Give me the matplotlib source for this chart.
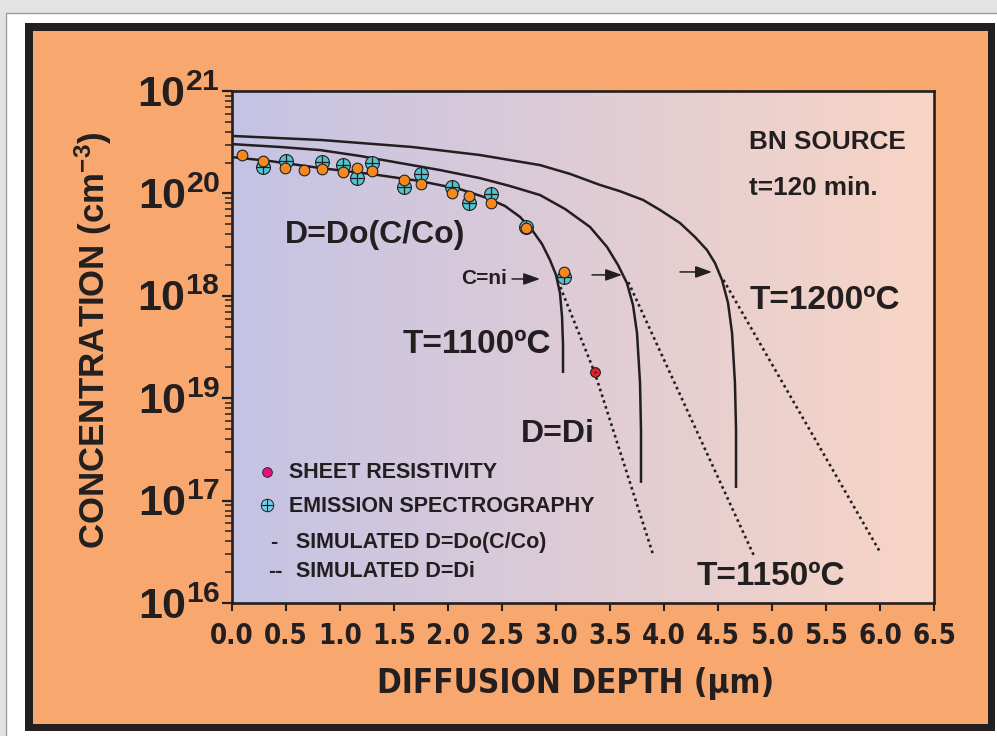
import numpy as np
import matplotlib
matplotlib.use("Agg")
import matplotlib.pyplot as plt
from matplotlib import font_manager
from matplotlib.patches import Rectangle
from matplotlib.ticker import LogLocator, NullFormatter, FixedLocator

# ---------------- data ----------------
# measured points: orange dots and emission spectrography (cyan crossed circles)
orange_x = [0.09, 0.29, 0.49, 0.67, 0.83, 1.03, 1.16, 1.30, 1.59, 1.75, 2.04, 2.19, 2.40, 2.72, 3.07]
orange_c = [2.37e20, 2.07e20, 1.77e20, 1.69e20, 1.73e20, 1.62e20, 1.77e20, 1.66e20,
            1.35e20, 1.24e20, 1.01e20, 9.4e19, 8.05e19, 4.6e19, 1.71e19]
emis_x = [0.29, 0.50, 0.83, 1.03, 1.16, 1.30, 1.59, 1.75, 2.04, 2.19, 2.40, 2.72, 3.07]
emis_c = [1.81e20, 2.07e20, 2.03e20, 1.89e20, 1.41e20, 1.98e20, 1.16e20, 1.55e20,
          1.16e20, 8.05e19, 9.9e19, 4.7e19, 1.53e19]
sheet_x = [3.36]
sheet_c = [1.80e18]

# simulated D=Do(C/Co) curves
sim1100_x = [0.0, 0.352, 0.815, 1.278, 1.741, 2.111, 2.361, 2.528, 2.667, 2.778, 2.870,
             2.944, 3.0, 3.037, 3.056, 3.065, 3.065]
sim1100_c = [2.26e20, 2.07e20, 1.77e20, 1.55e20, 1.32e20, 1.10e20, 9.02e19, 7.53e19, 5.89e19,
             4.40e19, 3.21e19, 2.24e19, 1.60e19, 1.06e19, 6.21e18, 3.31e18, 1.76e18]
sim1150_x = [0.0, 0.444, 0.815, 1.185, 1.556, 1.926, 2.296, 2.574, 2.852, 3.083, 3.315,
             3.472, 3.574, 3.657, 3.713, 3.75, 3.778, 3.787, 3.787]
sim1150_c = [3.03e20, 2.84e20, 2.65e20, 2.32e20, 1.98e20, 1.69e20, 1.41e20, 1.18e20, 9.64e19,
             7.05e19, 4.70e19, 3.00e19, 2.00e19, 1.33e19, 8.13e18, 4.34e18, 1.41e18, 4.89e17, 1.49e17]
sim1200_x = [0.0, 0.833, 1.667, 2.296, 2.852, 3.130, 3.407, 3.593, 3.806, 3.963, 4.148,
             4.287, 4.398, 4.472, 4.537, 4.593, 4.630, 4.657, 4.667, 4.667]
sim1200_c = [3.64e20, 3.32e20, 2.84e20, 2.37e20, 1.89e20, 1.55e20, 1.21e20, 1.05e20, 8.63e19,
             6.89e19, 5.14e19, 3.75e19, 2.80e19, 2.09e19, 1.43e19, 8.51e18, 4.34e18, 1.41e18,
             4.89e17, 1.33e17]

# simulated D=Di (dotted)
di1100_x = [3.04, 3.36, 3.90]
di1100_c = [1.22e19, 1.76e18, 2.94e16]
di1150_x = [3.67, 4.83]
di1150_c = [1.36e19, 2.94e16]
di1200_x = [4.55, 6.00]
di1200_c = [1.43e19, 3.15e16]

# C=ni arrows (tail x, tip x, level)
arrow_tail = [2.593, 3.333, 4.148]
arrow_tip = [2.852, 3.611, 4.444]
arrow_c = [1.46e19, 1.60e19, 1.71e19]

x_ticks = [0.0, 0.5, 1.0, 1.5, 2.0, 2.5, 3.0, 3.5, 4.0, 4.5, 5.0, 5.5, 6.0, 6.5]
x_ticklabels = ["0.0", "0.5", "1.0", "1.5", "2.0", "2.5", "3.0", "3.5", "4.0", "4.5", "5.0", "5.5", "6.0", "6.5"]
y_ticks = [1e16, 1e17, 1e18, 1e19, 1e20, 1e21]
y_ticklabels = [r"$10^{16}$", r"$10^{17}$", r"$10^{19}$", r"$10^{18}$", r"$10^{20}$", r"$10^{21}$"]

# ---------------- style ----------------
INK = "#231f20"
plt.rcParams["font.family"] = ["Liberation Sans", "DejaVu Sans"]
plt.rcParams["font.weight"] = "bold"
plt.rcParams["mathtext.fontset"] = "custom"
plt.rcParams["mathtext.rm"] = "Liberation Sans:bold"
plt.rcParams["mathtext.bf"] = "Liberation Sans:bold"
plt.rcParams["mathtext.it"] = "Liberation Sans:bold"

names = {(f.name, f.stretch) for f in font_manager.fontManager.ttflist}
if any(n == "Liberation Sans Narrow" for n, s in names):
    narrow = dict(family="Liberation Sans Narrow", weight="bold")
    nscale = 1.0
elif ("DejaVu Sans", "condensed") in names:
    narrow = dict(family="DejaVu Sans", stretch="condensed", weight="bold")
    nscale = 0.9
else:
    narrow = dict(family="Liberation Sans", weight="bold")
    nscale = 0.85

W, H = 997, 736
fig = plt.figure(figsize=(W / 100, H / 100), dpi=100, facecolor="#e3e3e3")


def frect(x0, y0, x1, y1, **kw):
    fig.add_artist(Rectangle((x0 / W, 1 - y1 / H), (x1 - x0) / W, (y1 - y0) / H,
                             transform=fig.transFigure, **kw))


frect(6, 13, W + 5, H + 5, facecolor="white", edgecolor="#9d9d9d", lw=1)
frect(25, 23, 995, 731, facecolor=INK, lw=0)
frect(33, 31, 988, 724, facecolor="#f8a86e", lw=0)

rect = [232 / W, 1 - 603 / H, 702 / W, 512 / H]
bg = fig.add_axes(rect, zorder=1)
g = np.linspace(0, 1, 256)
c0 = np.array([196, 195, 229]) / 255
c1 = np.array([249, 213, 197]) / 255
img = c0[None, :] * (1 - g[:, None]) + c1[None, :] * g[:, None]
bg.imshow(img[None, :, :], aspect="auto", extent=[0, 1, 0, 1])
bg.axis("off")

ax = fig.add_axes(rect, zorder=2)
ax.patch.set_alpha(0)
ax.set_xlim(0, 6.5)
ax.set_yscale("log")
ax.set_ylim(1e16, 1e21)

# curves
for xs, cs in [(sim1100_x, sim1100_c), (sim1150_x, sim1150_c), (sim1200_x, sim1200_c)]:
    ax.plot(xs, cs, color=INK, lw=1.8, solid_capstyle="butt", solid_joinstyle="round")
for xs, cs in [(di1100_x, di1100_c), (di1150_x, di1150_c), (di1200_x, di1200_c)]:
    ax.plot(xs, cs, color=INK, lw=1.9, linestyle=(0, (1, 1.3)))

# markers
ax.plot(emis_x, emis_c, "o", ms=10, mfc="#55c3cf", mec=INK, mew=0.8, zorder=4)
ax.plot(emis_x, emis_c, "+", ms=10, mec=INK, mew=0.9, zorder=4)
ax.plot(orange_x, orange_c, "o", ms=7.7, mfc="#f5891f", mec=INK, mew=0.8, zorder=5)
ax.plot(sheet_x, sheet_c, "o", ms=7, mfc="#e5202a", mec=INK, mew=0.8, zorder=5)
ax.plot(sheet_x, sheet_c, "o", ms=1.6, mfc=INK, mec=INK, mew=0, zorder=6)

# arrows
for t0, t1, c in zip(arrow_tail, arrow_tip, arrow_c):
    ax.annotate("", xy=(t1, c), xytext=(t0, c),
                arrowprops=dict(arrowstyle="-|>,head_length=0.5,head_width=0.18",
                                mutation_scale=20, lw=1.1, color=INK,
                                shrinkA=0, shrinkB=0))

# annotations
tk = dict(color=INK, weight="bold", family="Liberation Sans")
ax.text(4.787, 10 ** 20.50, "BN SOURCE", fontsize=18.8, ha="left", va="center", **tk)
ax.text(4.787, 10 ** 20.05, "t=120 min.", fontsize=18.8, ha="left", va="center", **tk)
ax.text(0.491, 10 ** 19.516, "D=Do(C/Co)", fontsize=23, ha="left", va="baseline", **tk)
ax.text(2.12, 10 ** 19.115, "C=ni", fontsize=15, ha="left", va="baseline", **tk)
ax.text(1.583, 10 ** 18.441, "T=1100ºC", fontsize=24, ha="left", va="baseline", **tk)
ax.text(2.676, 10 ** 17.572, "D=Di", fontsize=23, ha="left", va="baseline", **tk)
ax.text(4.796, 10 ** 18.871, "T=1200ºC", fontsize=24, ha="left", va="baseline", **tk)
ax.text(4.306, 10 ** 16.176, "T=1150ºC", fontsize=24, ha="left", va="baseline", **tk)

# legend (drawn as in the original artwork)
ax.plot([0.324], [10 ** 17.279], "o", ms=7, mfc="#e3127a", mec=INK, mew=0.6)
ax.plot([0.324], [10 ** 16.957], "o", ms=9, mfc="#74cde6", mec=INK, mew=0.7)
ax.plot([0.324], [10 ** 16.957], "+", ms=9, mec=INK, mew=0.8)
ax.text(0.528, 10 ** 17.221, "SHEET RESISTIVITY", fontsize=15.5, ha="left", va="baseline", **tk)
ax.text(0.528, 10 ** 16.889, "EMISSION SPECTROGRAPHY", fontsize=15.5, ha="left", va="baseline", **tk)
ax.text(0.352, 10 ** 16.537, "-", fontsize=15.5, ha="left", va="baseline", **tk)
ax.text(0.593, 10 ** 16.537, "SIMULATED D=Do(C/Co)", fontsize=15.5, ha="left", va="baseline", **tk)
ax.text(0.333, 10 ** 16.254, "--", fontsize=15.5, ha="left", va="baseline", **tk)
ax.text(0.593, 10 ** 16.254, "SIMULATED D=Di", fontsize=15.5, ha="left", va="baseline", **tk)

# axes styling
for sp in ax.spines.values():
    sp.set_linewidth(1.9)
    sp.set_color(INK)
ax.xaxis.set_major_locator(FixedLocator(x_ticks))
ax.set_xticklabels(x_ticklabels)
ax.yaxis.set_major_locator(FixedLocator(y_ticks))
ax.set_yticklabels(y_ticklabels)
ax.yaxis.set_minor_locator(LogLocator(base=10, subs=np.arange(2, 10)))
ax.yaxis.set_minor_formatter(NullFormatter())
ax.tick_params(axis="x", which="major", length=6, width=1.5, color=INK, pad=8,
               labelcolor=INK)
ax.tick_params(axis="y", which="major", length=7.5, width=1.6, color=INK, pad=1,
               labelcolor=INK, labelsize=31)
ax.tick_params(axis="y", which="minor", length=5, width=1.1, color=INK)
for lab in ax.get_xticklabels():
    lab.set_fontfamily(narrow["family"])
    lab.set_fontweight("bold")
    if "stretch" in narrow:
        lab.set_fontstretch(narrow["stretch"])
    lab.set_fontsize(22 * nscale)

ax.set_xlabel("DIFFUSION DEPTH (µm)", fontsize=26.5 * nscale,
              color=INK, fontweight="bold", fontfamily=narrow["family"])
if "stretch" in narrow:
    ax.xaxis.label.set_fontstretch(narrow["stretch"])
ax.xaxis.label.set_va("center")
ax.xaxis.set_label_coords(0.489, -0.158)

ax.set_ylabel("CONCENTRATION (cm$^{-3}$)", fontsize=25, color=INK, fontweight="bold",
              fontfamily="Liberation Sans")
ax.yaxis.label.set_va("center")
ax.yaxis.set_label_coords(-0.198, 0.514)

fig.savefig("out.png", dpi=100, facecolor=fig.get_facecolor())
